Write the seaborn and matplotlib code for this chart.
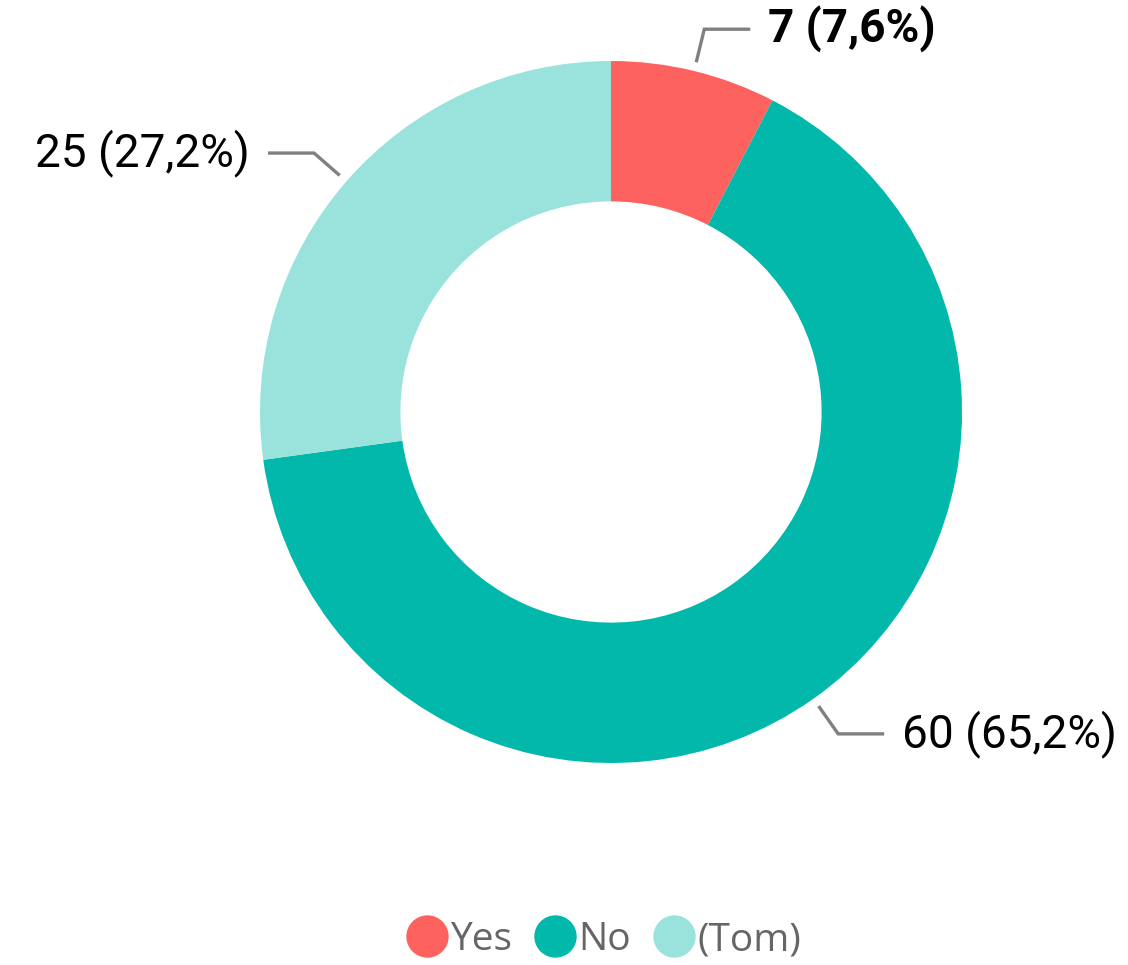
import numpy as np
import matplotlib
matplotlib.use("Agg")
import matplotlib.pyplot as plt
from matplotlib.lines import Line2D
from matplotlib import font_manager
import seaborn as sns

categories = ["Yes", "No", "(Tom)"]
counts = [7, 60, 25]
pct_labels = ["7,6%", "65,2%", "27,2%"]
colors = ["#FD625E", "#01B8AA", "#99E3DC"]

sns.set_theme(style="white")
names = {f.name for f in font_manager.fontManager.ttflist}
label_font = "Liberation Sans Narrow" if "Liberation Sans Narrow" in names else "Roboto"
legend_font = "Open Sans" if "Open Sans" in names else "DejaVu Sans"
plt.rcParams["font.family"] = [label_font, "DejaVu Sans"]

W, H = 1128, 965
fig = plt.figure(figsize=(W / 100, H / 100), dpi=100)
ax = fig.add_axes([0, 0, 1, 1])
ax.set_xlim(0, W)
ax.set_ylim(0, H)
ax.set_aspect("equal")
ax.axis("off")

cx, cy = 611, H - 412
R = 351
wedges, _ = ax.pie(counts, colors=sns.color_palette(colors), startangle=90,
                   counterclock=False, center=(cx, cy), radius=R,
                   wedgeprops=dict(width=R * 0.40, linewidth=0))
ax.set_xlim(0, W)
ax.set_ylim(0, H)

total = sum(counts)
start = 90.0
for i, (n, p) in enumerate(zip(counts, pct_labels)):
    span = n / total * 360
    mid = np.deg2rad(start - span / 2)
    start -= span
    x0, y0 = cx + 360 * np.cos(mid), cy + 360 * np.sin(mid)
    x1, y1 = cx + 394 * np.cos(mid), cy + 394 * np.sin(mid)
    side = 1 if np.cos(mid) >= 0 else -1
    x2 = x1 + side * 46
    ax.plot([x0, x1, x2], [y0, y1, y1], color="#808080", lw=2.4,
            solid_joinstyle="miter", solid_capstyle="butt")
    ax.text(x2 + side * 18, y1, f"{n} ({p})", fontsize=33,
            fontweight="bold" if i == 0 else "normal", color="black",
            ha="left" if side > 0 else "right", va="center")

handles = [Line2D([], [], marker="o", linestyle="none", markersize=30.5,
                  markerfacecolor=c, markeredgewidth=0) for c in colors]
fig.legend(handles, categories, loc="center", bbox_to_anchor=(0.533, 1 - 940 / H),
           ncol=3, frameon=False, handletextpad=-0.05, columnspacing=0.45,
           handlelength=1.3, prop=dict(family=legend_font, size=28),
           labelcolor="#666666")

fig.savefig("out.png", dpi=100, facecolor="white")
